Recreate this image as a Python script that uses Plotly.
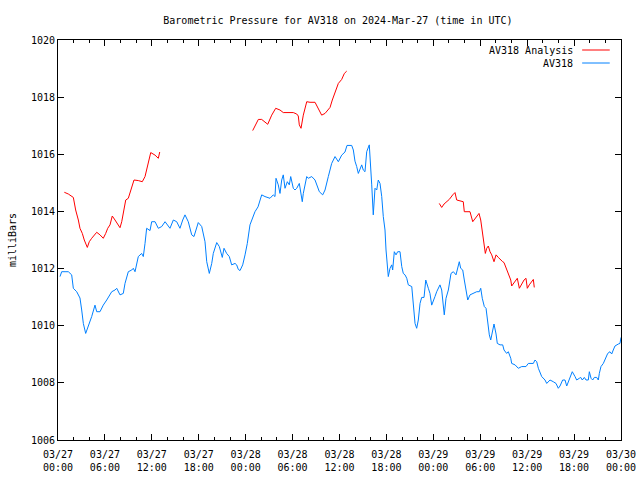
import pandas as pd
import plotly.graph_objects as go

# ---- data (hours after 2024-03-27 00:00 UTC, pressure in mb) ----
obs_hours = [0.26, 0.47, 0.90, 1.32, 1.75, 1.96, 2.39, 2.60, 2.81, 3.03, 3.24, 3.54, 3.88, 4.31, 4.73, 4.95,
             5.37, 5.79, 6.23, 6.65, 6.87, 7.29, 7.51, 7.93, 8.35, 8.57, 8.99, 9.43, 9.63, 9.85, 10.27, 10.70,
             10.91, 11.13, 11.34, 11.77, 11.98, 12.41, 12.83, 13.26, 13.69, 14.32, 14.75, 15.18, 15.60, 15.95,
             16.24, 16.66, 17.10, 17.39, 17.74, 17.94, 18.38, 18.58, 18.80, 19.02, 19.35, 19.66, 19.86, 20.30,
             20.63, 21.01, 21.23, 21.57, 21.91, 22.21, 22.64, 22.85, 23.06, 23.28, 23.62, 23.92, 24.21, 24.55,
             24.90, 25.19, 25.58, 26.05, 26.47, 27.11, 27.53, 27.75, 27.88, 28.17, 28.39, 28.61, 28.81, 29.03,
             29.33, 29.58, 29.76, 30.09, 30.31, 30.53, 30.86, 31.04, 31.24, 31.37, 31.59, 31.81, 32.01, 32.45,
             32.87, 33.16, 33.42, 33.85, 34.15, 34.57, 35.00, 35.43, 35.85, 36.28, 36.70, 36.96, 37.56, 37.77,
             37.98, 38.20, 38.41, 38.84, 39.04, 39.26, 39.48, 39.81, 39.99, 40.12, 40.32, 40.54, 40.76, 40.96,
             41.18, 41.40, 41.60, 41.82, 41.95, 42.11, 42.24, 42.46, 42.68, 42.80, 43.01, 43.23, 43.44, 43.74,
             43.96, 44.16, 44.38, 44.60, 44.80, 45.24, 45.44, 45.66, 45.87, 46.08, 46.30, 46.51, 46.81, 47.03,
             47.36, 47.57, 47.79, 48.00, 48.21, 48.43, 48.64, 48.85, 49.07, 49.28, 49.40, 49.62, 49.92, 50.26,
             50.56, 50.90, 51.19, 51.32, 51.50, 51.76, 51.96, 52.18, 52.40, 52.69, 53.11, 53.55, 53.88, 54.06,
             54.26, 54.52, 54.74, 54.95, 55.16, 55.34, 55.59, 55.76, 56.02, 56.18, 56.53, 56.87, 57.04, 57.38,
             57.59, 57.90, 58.02, 58.45, 58.87, 59.30, 59.85, 60.15, 60.79, 61.00, 61.22, 61.43, 61.86, 62.28,
             62.50, 62.92, 63.34, 63.69, 63.98, 64.20, 64.54, 64.84, 65.06, 65.26, 65.48, 65.77, 66.12, 66.33,
             66.67, 66.85, 67.05, 67.31, 67.53, 67.82, 67.95, 68.17, 68.38, 68.59, 68.89, 69.10, 69.23, 69.44,
             69.74, 70.08, 70.30, 70.59, 70.81, 71.01, 71.23, 71.66, 71.87, 72.00]
obs_mb = [1011.72, 1011.89, 1011.89, 1011.89, 1011.78, 1011.31, 1011.19, 1011.08, 1010.97, 1010.55, 1010.08,
          1009.73, 1009.97, 1010.32, 1010.72, 1010.49, 1010.49, 1010.72, 1010.90, 1011.08, 1011.19, 1011.25,
          1011.31, 1011.08, 1011.13, 1011.48, 1011.89, 1011.95, 1012.01, 1011.89, 1012.42, 1012.53, 1012.42,
          1012.88, 1013.41, 1013.33, 1013.64, 1013.64, 1013.41, 1013.47, 1013.64, 1013.41, 1013.70, 1013.64,
          1013.41, 1013.70, 1013.88, 1013.64, 1013.18, 1013.12, 1013.47, 1013.61, 1013.47, 1013.23, 1012.94,
          1012.24, 1011.83, 1012.18, 1012.53, 1012.91, 1012.77, 1012.39, 1012.71, 1012.53, 1012.42, 1012.13,
          1012.18, 1012.13, 1011.97, 1011.93, 1012.13, 1012.48, 1012.88, 1013.53, 1013.76, 1013.99, 1014.16,
          1014.58, 1014.52, 1014.46, 1014.58, 1014.52, 1015.16, 1014.93, 1014.63, 1015.10, 1015.28, 1014.81,
          1015.04, 1014.93, 1015.22, 1014.81, 1014.75, 1014.81, 1014.98, 1014.69, 1014.34, 1014.63, 1014.93,
          1015.22, 1015.16, 1015.22, 1015.10, 1014.87, 1014.69, 1014.58, 1014.75, 1015.22, 1015.68, 1015.92,
          1015.74, 1015.97, 1016.08, 1016.31, 1016.31, 1016.15, 1015.76, 1015.57, 1015.33, 1015.63, 1015.45,
          1015.39, 1016.09, 1016.33, 1015.63, 1014.93, 1013.88, 1014.81, 1014.75, 1015.10, 1014.98, 1014.52,
          1013.82, 1013.35, 1012.65, 1011.95, 1011.72, 1012.01, 1012.13, 1011.95, 1012.59, 1012.48, 1012.59,
          1012.59, 1012.07, 1011.83, 1011.78, 1011.66, 1011.43, 1011.37, 1010.78, 1010.08, 1009.91, 1010.20,
          1010.78, 1010.99, 1010.99, 1011.60, 1011.31, 1011.13, 1010.72, 1010.84, 1011.02, 1011.19, 1011.31,
          1011.43, 1011.25, 1010.72, 1010.38, 1010.96, 1011.25, 1011.83, 1011.89, 1011.78, 1012.07, 1012.24,
          1012.01, 1011.95, 1011.60, 1011.19, 1010.90, 1011.08, 1011.13, 1011.19, 1011.19, 1011.31, 1010.96,
          1010.67, 1010.61, 1010.06, 1009.68, 1009.50, 1009.91, 1010.06, 1009.71, 1009.38, 1009.33, 1009.33,
          1009.15, 1009.03, 1009.09, 1008.86, 1008.68, 1008.63, 1008.51, 1008.57, 1008.57, 1008.68, 1008.68,
          1008.80, 1008.74, 1008.51, 1008.22, 1008.10, 1007.98, 1008.10, 1008.04, 1007.98, 1007.81, 1007.89,
          1008.10, 1008.10, 1007.89, 1008.04, 1008.22, 1008.39, 1008.22, 1008.10, 1008.16, 1008.19, 1008.10,
          1008.19, 1008.10, 1008.10, 1008.39, 1008.16, 1008.10, 1008.19, 1008.19, 1008.10, 1008.33, 1008.57,
          1008.68, 1008.86, 1009.03, 1009.09, 1009.01, 1009.15, 1009.29, 1009.36, 1009.38, 1009.59]

ana1_hours = [0.81, 1.32, 1.96, 2.26, 2.60, 2.81, 3.11, 3.36, 3.75, 4.00, 4.31, 4.64, 4.95, 5.37, 5.79, 6.10,
              6.36, 6.65, 6.94, 7.29, 7.63, 7.93, 8.15, 8.35, 8.66, 8.99, 9.34, 9.72, 10.27, 10.78, 11.13,
              11.47, 11.86, 12.41, 12.83, 13.01]
ana1_mb = [1014.67, 1014.61, 1014.49, 1014.05, 1013.70, 1013.41, 1013.23, 1013.00, 1012.74, 1012.94, 1013.06,
           1013.18, 1013.27, 1013.18, 1013.06, 1013.23, 1013.41, 1013.53, 1013.84, 1013.70, 1013.53, 1013.43,
           1013.64, 1013.99, 1014.40, 1014.46, 1014.75, 1015.10, 1015.08, 1015.04, 1015.22, 1015.63, 1016.06,
           1015.97, 1015.86, 1016.08]
ana2_hours = [24.90, 25.19, 25.62, 26.05, 26.47, 26.82, 27.33, 27.84, 28.39, 28.81, 30.09, 30.53, 30.73, 30.86,
              31.08, 31.37, 31.81, 32.23, 32.87, 33.29, 33.72, 34.15, 34.57, 34.79, 35.08, 35.43, 35.85, 36.28,
              36.62, 36.92]
ana2_mb = [1016.83, 1016.97, 1017.22, 1017.22, 1017.11, 1017.05, 1017.37, 1017.61, 1017.55, 1017.46, 1017.46,
           1017.41, 1017.34, 1017.03, 1016.91, 1017.37, 1017.84, 1017.82, 1017.82, 1017.61, 1017.37, 1017.43,
           1017.57, 1017.64, 1017.90, 1018.19, 1018.48, 1018.62, 1018.83, 1018.91]
ana3_hours = [48.76, 49.07, 49.37, 49.71, 50.04, 50.48, 50.77, 50.99, 51.41, 51.83, 51.96, 52.27, 52.69, 53.04,
              53.33, 53.55, 53.84, 54.06, 54.26, 54.48, 54.65, 54.83, 55.03, 55.25, 55.47, 55.76, 56.02, 56.31,
              56.53, 56.87, 57.04, 57.29, 57.59, 57.90, 58.02, 58.23, 58.45, 58.74, 59.00, 59.30, 59.60, 59.85,
              60.02, 60.27, 60.58, 60.79, 60.91]
ana3_mb = [1014.28, 1014.14, 1014.26, 1014.34, 1014.42, 1014.58, 1014.66, 1014.40, 1014.38, 1014.34, 1013.99,
           1013.99, 1013.99, 1013.64, 1013.76, 1013.84, 1013.93, 1013.70, 1013.35, 1012.94, 1012.53, 1012.71,
           1012.79, 1012.59, 1012.48, 1012.24, 1012.48, 1012.39, 1012.32, 1012.24, 1012.21, 1012.01, 1011.78,
           1011.60, 1011.39, 1011.48, 1011.58, 1011.66, 1011.31, 1011.48, 1011.60, 1011.66, 1011.31, 1011.43,
           1011.54, 1011.62, 1011.34]

tick_hours = [0, 6, 12, 18, 24, 30, 36, 42, 48, 54, 60, 66, 72]
tick_labels = ["03/27<br>00:00", "03/27<br>06:00", "03/27<br>12:00", "03/27<br>18:00",
               "03/28<br>00:00", "03/28<br>06:00", "03/28<br>12:00", "03/28<br>18:00",
               "03/29<br>00:00", "03/29<br>06:00", "03/29<br>12:00", "03/29<br>18:00",
               "03/30<br>00:00"]
y_ticks = [1006, 1008, 1010, 1012, 1014, 1016, 1018, 1020]

base = pd.Timestamp("2024-03-27 00:00")


def to_time(hours):
    return list(base + pd.to_timedelta(hours, unit="h"))


RED = "#ff0000"
BLUE = "#0080ff"
FONT = "DejaVu Sans Mono"

# analysis segments joined with gaps
ana_x, ana_y = [], []
for hs, vs in [(ana1_hours, ana1_mb), (ana2_hours, ana2_mb), (ana3_hours, ana3_mb)]:
    ana_x += to_time(hs) + [None]
    ana_y += vs + [None]

fig = go.Figure()
fig.add_trace(go.Scatter(x=ana_x, y=ana_y, mode="lines", name="AV318 Analysis",
                         line=dict(color=RED, width=1), connectgaps=False, showlegend=False))
fig.add_trace(go.Scatter(x=to_time(obs_hours), y=obs_mb, mode="lines", name="AV318",
                         line=dict(color=BLUE, width=1), showlegend=False))

fig.update_layout(
    width=640, height=480,
    margin=dict(l=58, r=19, t=40, b=40, autoexpand=False),
    paper_bgcolor="white", plot_bgcolor="white",
    font=dict(family=FONT, size=10, color="black"),
    title=dict(text="Barometric Pressure for AV318 on 2024-Mar-27 (time in UTC)",
               x=0.528, xanchor="center", y=0.958, yanchor="middle",
               font=dict(family=FONT, size=10, color="black")),
    showlegend=False,
)
fig.update_xaxes(
    type="date",
    range=[base, base + pd.Timedelta(hours=72)],
    tickvals=to_time(tick_hours), ticktext=tick_labels,
    ticks="inside", ticklen=6, tickcolor="black",
    ticklabelstandoff=5,
    minor=dict(dtick=2 * 3600 * 1000, ticks="inside", ticklen=3, tickcolor="black", showgrid=False),
    showline=True, linecolor="black", linewidth=1, mirror="ticks",
    showgrid=False, zeroline=False,
    tickfont=dict(family=FONT, size=10, color="black"),
)
fig.update_yaxes(
    range=[1006, 1020],
    tickvals=y_ticks,
    ticks="inside", ticklen=6, tickcolor="black",
    showline=True, linecolor="black", linewidth=1, mirror="ticks",
    showgrid=False, zeroline=False,
    title=dict(text="milliBars", standoff=12, font=dict(family=FONT, size=10, color="black")),
    tickfont=dict(family=FONT, size=10, color="black"),
)

# legend drawn like the original (text left of the line sample)
legend_items = [("AV318 Analysis", RED, 0.975), ("AV318", BLUE, 0.9425)]
for label, color, ypos in legend_items:
    fig.add_annotation(x=0.918, y=ypos, xref="paper", yref="paper", text=label, showarrow=False,
                       xanchor="right", yanchor="middle", font=dict(family=FONT, size=10, color="black"))
    fig.add_shape(type="line", xref="paper", yref="paper", x0=0.931, x1=0.980, y0=ypos, y1=ypos,
                  line=dict(color=color, width=1))

fig.write_html("out.html", config={"displayModeBar": False},
               post_script="document.body.style.margin='0';document.body.style.padding='0';")
